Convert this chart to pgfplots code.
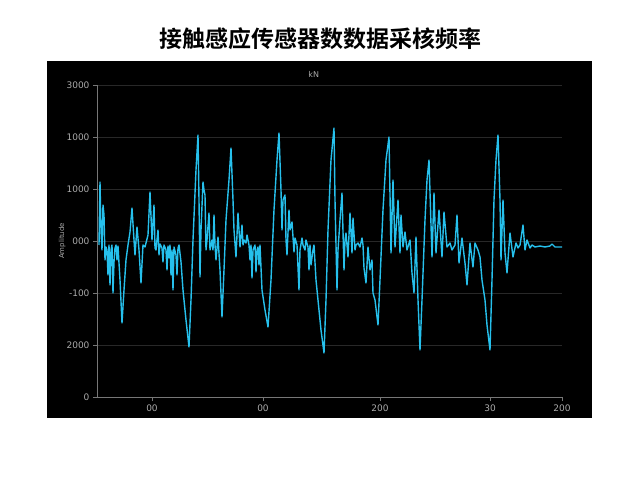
\documentclass[border=0pt]{standalone}
\usepackage{pgfplots}
\usepackage{pgfplotstable}
\usepackage{fontspec}
\pgfplotsset{compat=1.18}
\setmainfont{DejaVu Sans}
\newfontfamily\cjk[BoldFont={Noto Sans CJK SC Bold}]{Noto Sans CJK SC}
\definecolor{wave}{RGB}{38,192,236}
\definecolor{ticktext}{RGB}{170,170,170}
\definecolor{gridc}{RGB}{40,40,40}

% signal: px = column in image, py = row in image
\pgfplotstableread{
px py
99 245
100 182
101 230
102 250
103 205
104 215
105 260
106 247
107 250
108 275
109 245
110 285
111 250
112 245
113 293
114 262
115 248
116 245
117 260
118 246
120 280
122 323
124 290
126 260
128 245
130 232
132 208
134 240
135 255
137 227
139 250
141 283
143 245
145 247
146 243
148 235
150 192
152 240
154 205
155 248
156 250
158 230
159 255
160 244
162 248
163 262
164 245
166 250
167 270
168 246
169 258
170 245
171 275
172 250
173 290
174 247
176 255
177 275
178 248
179 245
181 262
183 290
186 320
189 347
191 300
193 240
196 170
198 135
199 200
200 277
201 230
203 182
204 190
205 195
206 250
207 240
209 213
210 250
212 240
213 250
214 215
215 245
216 260
218 237
220 270
222 317
224 270
226 220
229 180
231 148
233 200
234 230
236 257
238 213
240 247
242 225
243 245
244 240
246 243
247 235
249 245
250 260
251 245
252 278
253 250
255 245
256 272
257 250
258 247
259 265
260 245
262 290
265 310
268 327
271 280
274 210
277 160
279 133
281 190
282 230
283 200
285 195
286 240
287 255
289 210
290 230
292 222
294 252
295 238
297 245
299 290
300 250
302 238
303 245
305 250
306 240
308 247
309 270
310 245
311 265
313 250
314 245
316 280
319 310
321 330
324 353
326 300
328 230
331 160
334 128
335 200
337 290
338 250
340 220
342 193
344 270
345 240
346 233
348 257
350 213
352 253
353 218
355 250
356 245
358 243
360 247
362 238
363 245
364 268
366 283
368 247
370 270
372 260
373 293
375 300
378 325
380 280
383 210
386 160
389 137
391 253
393 180
395 247
398 200
400 253
401 215
403 247
405 232
407 250
410 240
412 273
414 293
416 237
418 300
420 350
422 300
425 220
427 180
429 160
432 257
434 193
436 253
439 210
442 257
444 212
447 247
450 243
452 250
455 245
457 215
459 263
462 238
465 263
467 285
470 243
473 267
475 243
478 250
480 257
482 280
485 300
487 325
490 350
492 280
494 200
496 160
498 135
500 200
501 260
503 200
505 253
507 273
510 233
513 257
516 243
518 248
520 245
523 225
525 250
527 240
530 248
532 245
535 247
540 246
545 247
550 246
552 244
555 247
560 247
562 247
}\signal

\begin{document}
\begin{tikzpicture}[x=1pt,y=1pt]
\fill[white] (0,0) rectangle (640,480);
\useasboundingbox (0,0) rectangle (640,480);
\fill[black] (47,62) rectangle (592,419);
\node[font=\cjk\bfseries\fontsize{23}{26}\selectfont, text=black] at (320,441) {接触感应传感器数数据采核频率};
\begin{axis}[
    at={(97pt,83pt)}, anchor=south west,
    scale only axis,
    width=465pt, height=312pt,
    xmin=0, xmax=465,
    ymin=0, ymax=312,
    axis x line*=bottom, axis y line*=left,
    axis line style={draw=ticktext!70!black, line width=0.8pt},
    tick align=outside,
    tick style={draw=ticktext!70!black, line width=0.6pt},
    major tick length=4pt,
    xtick={55,166,283,393,465},
    xticklabels={00,00,200,30,200},
    ytick={0,52,104,156,208,260,312},
    yticklabels={0,2000,-100,000,1000,1000,3000},
    ymajorgrids,
    grid style={draw=gridc, line width=0.6pt},
    ticklabel style={text=ticktext, font=\fontsize{9}{10}\selectfont},
    /pgf/number format/assume math mode=true,
    title={kN},
    title style={text=ticktext, font=\fontsize{8}{9}\selectfont, at={(0.466,1)}, yshift=-2pt},
    ylabel={Amplitude},
    ylabel style={text=ticktext, font=\fontsize{7}{8}\selectfont, at={(axis description cs:-0.075,0.5)}, anchor=center},
]
\addplot[wave, line width=1.4pt, line join=round, mark=none]
    table[x expr=\thisrow{px}-97, y expr=397-\thisrow{py}] {\signal};
\end{axis}
\end{tikzpicture}
\end{document}
